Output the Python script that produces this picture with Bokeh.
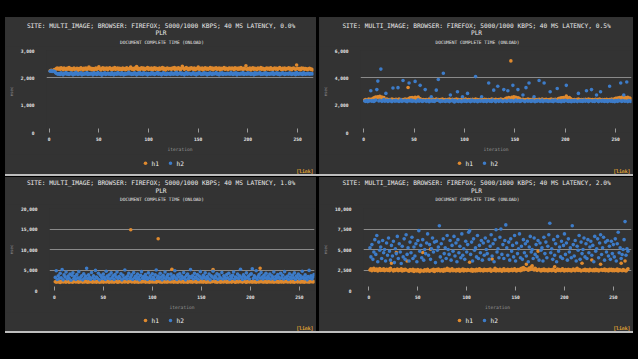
import numpy as np
from bokeh.plotting import figure
from bokeh.models import (Range1d, FixedTicker, NumeralTickFormatter, Spacer,
                          GlobalInlineStyleSheet)
from bokeh.core.properties import value
from bokeh.layouts import column, row
from bokeh.embed import file_html
from bokeh.resources import INLINE

# ---------------- data (msec per iteration) ----------------
TITLE_BASE = "SITE: MULTI_IMAGE; BROWSER: FIREFOX; 5000/1000 KBPS; 40 MS LATENCY, "
PLR_LEVELS = ["0.0%", "0.5%", "1.0%", "2.0%"]
SUBTITLE = "DOCUMENT COMPLETE TIME (ONLOAD)"
SERIES_NAMES = ["h1", "h2"]
X_TICKS = [0, 50, 100, 150, 200, 250]

Y_TICKS_00 = [0, 1000, 2000, 3000]
Y_TICKS_05 = [0, 2000, 4000, 6000]
Y_TICKS_10 = [0, 5000, 10000, 15000, 20000]
Y_TICKS_20 = [0, 2500, 5000, 7500, 10000]

P00_H1 = [2260, 2280, 2250, 2270, 2290, 2300, 2330, 2360, 2320, 2350, 2310, 2370, 2340, 2300, 2360, 2330, 2290, 2350, 2320, 2380,
          2310, 2340, 2290, 2330, 2360, 2300, 2320, 2350, 2280, 2340, 2310, 2370, 2330, 2290, 2350, 2320, 2360, 2300, 2340, 2390,
          2320, 2350, 2300, 2340, 2280, 2330, 2360, 2310, 2350, 2400, 2330, 2290, 2340, 2370, 2310, 2350, 2320, 2360, 2300, 2340,
          2370, 2330, 2290, 2350, 2320, 2380, 2310, 2340, 2360, 2300, 2350, 2330, 2290, 2360, 2320, 2340, 2300, 2370, 2330, 2310,
          2350, 2390, 2320, 2340, 2300, 2360, 2330, 2410, 2310, 2350, 2280, 2340, 2370, 2320, 2360, 2300, 2340, 2330, 2380, 2310,
          2350, 2320, 2360, 2290, 2340, 2370, 2310, 2350, 2330, 2300, 2360, 2320, 2340, 2380, 2310, 2350, 2290, 2340, 2360, 2320,
          2340, 2340, 2310, 2360, 2330, 2380, 2300, 2350, 2320, 2370, 2340, 2290, 2350, 2420, 2360, 2310, 2340, 2380, 2330, 2300,
          2350, 2320, 2370, 2340, 2310, 2360, 2300, 2340, 2330, 2390, 2310, 2350, 2320, 2360, 2290, 2340, 2370, 2320, 2350, 2310,
          2340, 2380, 2320, 2360, 2300, 2350, 2330, 2370, 2310, 2340, 2360, 2290, 2350, 2320, 2340, 2380, 2310, 2350, 2330, 2300,
          2360, 2350, 2320, 2360, 2340, 2300, 2370, 2330, 2350, 2310, 2360, 2320, 2380, 2340, 2300, 2350, 2330, 2440, 2310, 2340,
          2320, 2360, 2290, 2340, 2370, 2310, 2350, 2330, 2300, 2360, 2340, 2320, 2380, 2310, 2350, 2330, 2290, 2340, 2360, 2320,
          2350, 2310, 2370, 2330, 2300, 2340, 2360, 2320, 2350, 2310, 2340, 2380, 2330, 2300, 2350, 2320, 2360, 2310, 2340, 2330,
          2370, 2320, 2350, 2300, 2340, 2360, 2330, 2310, 2470, 2350, 2320, 2340, 2300, 2360, 2330, 2350, 2310, 2340, 2320, 2300,
          2330, 2350, 2310, 2320, 2290]
P00_H2 = [2240, 2260, 2230, 2250, 2240, 2210, 2170, 2150, 2130, 2160, 2120, 2180, 2140, 2110, 2170, 2150, 2190, 2130, 2160, 2120,
          2150, 2180, 2140, 2110, 2170, 2130, 2200, 2150, 2120, 2160, 2140, 2180, 2110, 2150, 2130, 2170, 2140, 2190, 2120, 2160,
          2130, 2170, 2150, 2110, 2180, 2140, 2160, 2120, 2190, 2150, 2130, 2170, 2100, 2160, 2140, 2180, 2120, 2150, 2170, 2130,
          2160, 2120, 2180, 2140, 2110, 2170, 2150, 2130, 2190, 2140, 2160, 2120, 2180, 2150, 2110, 2170, 2130, 2160, 2140, 2200,
          2140, 2170, 2120, 2160, 2130, 2180, 2150, 2110, 2170, 2140, 2190, 2130, 2160, 2120, 2180, 2150, 2140, 2170, 2110, 2160,
          2150, 2130, 2180, 2140, 2170, 2120, 2160, 2150, 2190, 2130, 2170, 2140, 2110, 2160, 2180, 2130, 2150, 2120, 2170, 2140,
          2160, 2120, 2180, 2150, 2130, 2170, 2140, 2200, 2120, 2160, 2150, 2180, 2130, 2170, 2140, 2110, 2160, 2190, 2130, 2150,
          2170, 2140, 2120, 2160, 2180, 2130, 2150, 2110, 2170, 2140, 2190, 2160, 2120, 2150, 2130, 2180, 2140, 2170, 2110, 2160,
          2130, 2180, 2150, 2120, 2170, 2140, 2160, 2190, 2130, 2150, 2110, 2170, 2140, 2180, 2120, 2160, 2150, 2130, 2170, 2140,
          2160, 2130, 2190, 2150, 2120, 2170, 2140, 2180, 2110, 2160, 2150, 2130, 2170, 2140, 2190, 2120, 2160, 2150, 2130, 2180,
          2140, 2170, 2120, 2160, 2150, 2110, 2180, 2130, 2170, 2140, 2160, 2190, 2120, 2150, 2130, 2170, 2140, 2180, 2110, 2160,
          2150, 2130, 2170, 2140, 2190, 2120, 2160, 2150, 2180, 2130, 2170, 2110, 2160, 2140, 2180, 2150, 2120, 2170, 2140, 2160,
          2130, 2180, 2150, 2120, 2160, 2140, 2170, 2110, 2190, 2150, 2130, 2170, 2140, 2160, 2120, 2180, 2150, 2130, 2160, 2140,
          2170, 2130, 2160, 2140, 2150]

P05_H1 = [2380, 2420, 2360, 2400, 2450, 2390, 2430, 2370, 2480, 2520, 2560, 2600, 2540, 2620, 2580, 2650, 2510, 2590, 2470, 2550,
          2410, 2380, 2440, 2360, 2400, 2420, 2370, 2450, 2390, 2410, 2360, 2430, 2380, 2400, 2440, 2370, 2410, 2390, 2420, 2380,
          2450, 2400, 2430, 3290, 2480, 2530, 2500, 2560, 2470, 2520, 2580, 2490, 2540, 2600, 2510, 2460, 2420, 2380, 2410, 2390,
          2370, 2420, 2400, 2380, 2440, 2360, 2410, 2390, 2430, 2370, 2400, 2450, 2380, 2420, 2360, 2410, 2390, 2440, 2370, 2400,
          2420, 2380, 2410, 2360, 2440, 2390, 2400, 2430, 2370, 2410, 2380, 2450, 2360, 2420, 2400, 2390, 2430, 2370, 2410, 2380,
          2440, 2400, 2370, 2420, 2390, 2410, 2360, 2430, 2380, 2400, 2450, 2370, 2410, 2390, 2420, 2380, 2440, 2360, 2400, 2430,
          2390, 2410, 2370, 2420, 2400, 2380, 2440, 2360, 2410, 2390, 2430, 2370, 2400, 2420, 2380, 2450, 2390, 2410, 2370, 2430,
          2480, 2520, 2460, 2550, 2500, 5240, 2570, 2490, 2610, 2530, 2580, 2470, 2540, 2500, 2450, 2410, 2380, 2430, 2400, 2370,
          2420, 2390, 2440, 2380, 2410, 2360, 2400, 2450, 2370, 2420, 2390, 2410, 2380, 2430, 2360, 2400, 2440, 2390, 2410, 2370,
          2430, 2380, 2400, 2420, 2370, 2440, 2390, 2410, 2360, 2430, 2400, 2380, 2470, 2510, 2490, 2540, 2500, 2560, 2480, 2530,
          2660, 2520, 2470, 2550, 2490, 2430, 2400, 2380, 2420, 2390, 2410, 2370, 2440, 2380, 2400, 2420, 2360, 2410, 2390, 2430,
          2380, 2400, 2440, 2370, 2410, 2390, 2420, 2360, 2400, 2430, 2380, 2410, 2390, 2440, 2370, 2400, 2420, 2380, 2410, 2390,
          2430, 2370, 2400, 2420, 2380, 2440, 2390, 2410, 2460, 2500, 2480, 2530, 2510, 2560, 2490, 2580, 2520, 2610, 2470, 2550,
          2500, 2570, 2480, 2530, 2460]
P05_H2 = [2310, 2280, 2350, 2260, 2300, 2330, 3050, 2290, 2340, 2270, 2320, 2380, 3140, 3760, 2300, 2360, 4640, 2280, 2330, 2410,
          2290, 2860, 2350, 2270, 2320, 2380, 2300, 2260, 3260, 2340, 2290, 2360, 2310, 3280, 2270, 2330, 2400, 2280, 3810, 2320,
          2350, 2290, 2260, 2330, 3620, 2300, 2370, 2280, 2340, 2310, 3740, 2260, 2320, 2390, 2290, 3450, 2350, 2270, 2310, 2340,
          3140, 2280, 2360, 2300, 2250, 2330, 2620, 2290, 2350, 2270, 2320, 3100, 2380, 3880, 2300, 2260, 2340, 2290, 4330, 2310,
          2270, 2350, 2300, 2330, 2260, 2740, 2320, 2380, 2290, 2240, 2340, 2300, 2980, 2270, 2360, 2310, 2250, 2620, 2330, 2290,
          2350, 2270, 2860, 2320, 2300, 2260, 2380, 2310, 2340, 2280, 4090, 2330, 2250, 2300, 2360, 2290, 2620, 2320, 2270, 2340,
          2310, 2260, 2350, 3620, 2290, 2330, 2270, 2380, 3100, 2300, 2250, 2340, 3380, 2280, 2320, 2360, 2290, 2260, 3140, 2330,
          2300, 2270, 3050, 2350, 2310, 2280, 2340, 3450, 2260, 2320, 2380, 2290, 3140, 2330, 2270, 2310, 2350, 2740, 2300, 2260,
          3280, 2340, 2290, 3620, 2320, 2270, 2360, 2300, 2620, 2250, 2330, 2290, 2350, 3810, 2280, 2310, 2370, 2260, 3620, 2320,
          2300, 2340, 2270, 2310, 2980, 2290, 2350, 2260, 2320, 2380, 2300, 3220, 2270, 2330, 2290, 2250, 2340, 2310, 2280, 2360,
          3450, 2300, 2270, 2330, 2290, 2250, 2340, 2310, 2280, 2360, 2300, 2260, 2860, 2320, 2290, 2350, 2270, 2310, 2380, 2290,
          3050, 2330, 2260, 2300, 2340, 3140, 2280, 2320, 2270, 2350, 2740, 2300, 2260, 2330, 2980, 2290, 2350, 2310, 2270, 2340,
          2300, 2260, 2330, 3380, 2290, 2350, 2270, 2310, 2250, 2340, 2300, 2280, 2360, 2320, 3620, 2270, 2330, 2740, 2290, 2310,
          3690, 2260, 2340, 2300, 2280]

P10_H1 = [2150, 2050, 2200, 2100, 2250, 1980, 2150, 2300, 2080, 2200, 2120, 2050, 2250, 2180, 2000, 2150, 2220, 2100, 2050, 2300,
          2180, 2080, 2200, 2150, 2020, 2250, 2120, 2180, 2050, 2220, 2100, 2300, 2150, 2000, 2200, 2080, 2250, 2130, 2050, 2180,
          2100, 2220, 2050, 2150, 2280, 2000, 2180, 2100, 2250, 2050, 2150, 2200, 2080, 2300, 2120, 2020, 2220, 2150, 2080, 2200,
          2050, 2180, 2250, 2100, 2000, 2200, 2150, 2280, 2050, 2120, 2220, 2080, 2180, 2300, 2020, 2150, 2250, 14800, 2100, 2200,
          2150, 2050, 2230, 2100, 2180, 2000, 2250, 2120, 2080, 2200, 2150, 2300, 2050, 2180, 2100, 2250, 2020, 2150, 2220, 2080,
          2200, 2100, 2280, 2050, 2150, 12640, 2220, 2080, 2180, 2000, 2250, 2150, 2100, 2300, 2050, 2180, 2120, 2230, 2080, 5200,
          2150, 2050, 2250, 2100, 2200, 2000, 2180, 2300, 2080, 2150, 2220, 2050, 2180, 2100, 2250, 2020, 2150, 2280, 2100, 2200,
          2050, 2180, 2120, 2250, 2000, 2150, 2220, 2080, 2300, 2100, 2180, 2050, 2250, 2150, 2020, 2200, 2100, 2280, 2050, 2180,
          2120, 5120, 2250, 2080, 2200, 2000, 2150, 2280, 2100, 2050, 2220, 2150, 2080, 2300, 2180, 2020, 2250, 2100, 2150, 2200,
          2050, 2180, 2250, 2100, 2000, 2220, 2150, 2080, 2300, 2120, 2200, 2050, 2180, 2250, 2100, 2020, 2150, 2280, 2080, 2200,
          2150, 2050, 2230, 2100, 2180, 2000, 2250, 2120, 2080, 5440, 2150, 2300, 2050, 2180, 2100, 2250, 2020, 2150, 2220, 2080,
          2200, 2100, 2280, 2050, 2150, 2220, 2080, 2180, 2000, 2250, 2150, 2100, 2300, 2050, 2180, 2120, 2230, 2080, 2150, 2200,
          2050, 2250, 2100, 2200, 2000, 2180, 2300, 2080, 2150, 2220, 2050, 2180, 2100, 2250, 2020, 2150, 2280, 2100, 2200, 2050,
          2180, 2120, 2250, 2080, 2200]
P10_H2 = [3200, 4800, 2700, 3600, 2900, 4200, 3100, 5100, 2600, 3800, 3300, 4500, 2800, 3500, 3000, 4000, 2500, 3700, 4300, 2900,
          3400, 2700, 3900, 3100, 4600, 2800, 3300, 3600, 2600, 4100, 3000, 3500, 5400, 2900, 3800, 3200, 2700, 4400, 3100, 3600,
          2800, 4900, 3300, 3000, 4200, 2600, 3700, 3400, 2900, 4000, 3200, 2700, 4700, 3500, 3000, 3800, 2800, 4300, 3100, 3600,
          2700, 3900, 3300, 4500, 2900, 3400, 3100, 4100, 2600, 3700, 3000, 5000, 3200, 2800, 3600, 4200, 2900, 3300, 3800, 2700,
          4400, 3100, 3500, 2800, 4000, 3200, 2600, 3700, 4600, 3000, 3400, 2900, 3900, 3300, 2700, 4300, 3100, 3600, 2800, 4100,
          3200, 2700, 3800, 5000, 3000, 3500, 2900, 4200, 3300, 2600, 3700, 3100, 4500, 2800, 3400, 3900, 3000, 2700, 4000, 3300,
          2900, 3600, 4800, 3100, 2700, 3800, 3300, 4100, 2800, 3500, 3000, 4400, 3200, 2600, 3700, 4000, 2900, 3400, 5100, 3100,
          3600, 2800, 4200, 3300, 3000, 3900, 2700, 3500, 4600, 3100, 2900, 3700, 3200, 4300, 2800, 3400, 3000, 4000, 2600, 3600,
          3300, 4700, 2900, 3500, 3100, 4100, 2700, 3800, 3200, 3000, 4400, 2800, 3600, 3300, 2900, 3900, 3100, 4200, 2700, 3500,
          3000, 3700, 4500, 2800, 3300, 3100, 4000, 2900, 3600, 5200, 3200, 2700, 3800, 3400, 2900, 4300, 3100, 3500, 2800, 3900,
          4100, 5300, 2900, 3600, 3200, 4800, 2700, 3400, 3900, 3000, 4400, 3300, 2800, 3700, 3100, 4200, 2900, 3500, 3000, 4000,
          2800, 3600, 3200, 4500, 2700, 3400, 3000, 3900, 3300, 2900, 4200, 3100, 3700, 2800, 4600, 3200, 3000, 3500, 2700, 4100,
          3300, 2900, 3800, 3100, 4300, 2700, 3500, 3200, 4000, 2800, 3600, 3000, 4700, 3300, 2900, 3800, 3100, 2600, 3400, 4900,
          3000, 3600, 2800, 3300, 3900]

P20_H1 = [2500, 2650, 2420, 2580, 2700, 2450, 2550, 2620, 2380, 2500, 2680, 2430, 2560, 2480, 2640, 2400, 2520, 2600, 2460, 2580,
          2420, 2700, 3320, 2500, 2380, 2560, 2450, 4640, 2620, 2400, 2530, 2470, 2650, 2380, 2550, 2450, 2600, 2500, 3600, 2420,
          2350, 2560, 2480, 2400, 2600, 2330, 2500, 2450, 2380, 2550, 2420, 2300, 2480, 2400, 4640, 2360, 2520, 2450, 2380, 2600,
          2430, 2350, 5040, 2500, 2400, 2580, 2330, 2470, 2550, 2400, 2620, 2450, 2380, 2530, 2480, 2360, 2600, 2420, 2500, 2700,
          2450, 2580, 2380, 2520, 2640, 2400, 2500, 2460, 2380, 2560, 2430, 2600, 2350, 2500, 2450, 2620, 2380, 2540, 2470, 2400,
          2560, 2480, 3440, 2400, 2600, 2350, 2520, 2450, 2380, 2580, 2420, 2500, 2650, 2400, 2530, 2460, 2380, 2600, 2450, 2520,
          2400, 2560, 2480, 2620, 2350, 3840, 2500, 2430, 2700, 2380, 2550, 2460, 2400, 2600, 2480, 2350, 2520, 2640, 2420, 2500,
          2450, 2580, 2380, 2530, 2460, 2600, 2400, 2500, 2650, 2430, 2380, 2560, 2480, 2600, 2420, 2700, 2500, 2800, 2550, 2650,
          3200, 2600, 2480, 2750, 2560, 2850, 3000, 2620, 2500, 2700, 2580, 2450, 4800, 2600, 2500, 2380, 2560, 2450, 2620, 2400,
          2520, 2460, 2380, 2600, 2450, 2530, 2400, 2580, 2480, 2900, 2350, 2500, 2620, 2430, 2560, 2400, 2500, 2650, 2450, 2380,
          2560, 2480, 2400, 2600, 2450, 2530, 2380, 2500, 2620, 2460, 2400, 2580, 2700, 2430, 2550, 2480, 2380, 3320, 2500, 2450,
          2600, 2400, 2530, 2460, 2380, 2580, 2480, 3720, 2420, 2550, 2400, 2600, 2450, 2520, 2380, 2480, 3200, 2560, 2430, 2500,
          2620, 2400, 2530, 2460, 2380, 2580, 2480, 2600, 2420, 2550, 2400, 2500, 2450, 2620, 2380, 2530, 2480, 3320, 2400, 2560,
          2450, 3600, 2380, 2520, 2650]
P20_H2 = [5200, 4100, 5600, 3800, 4700, 6200, 4400, 6700, 3500, 5900, 4900, 5300, 3900, 6100, 4600, 5000, 3600, 5800, 4300, 6400,
          4800, 3700, 5500, 4200, 6000, 3400, 5100, 4500, 6600, 3900, 5700, 4700, 3300, 5400, 4100, 6300, 3800, 6800, 4400, 5200,
          3600, 5900, 4600, 6500, 3900, 5300, 4200, 5700, 3500, 6100, 7300, 4800, 5500, 4000, 6200, 3700, 5000, 4500, 5800, 6900,
          4300, 5600, 3800, 5100, 6400, 4700, 5900, 3400, 6000, 4900, 5300, 7900, 4100, 5700, 3600, 6300, 4500, 5200, 3900, 6700,
          5000, 4400, 6100, 3700, 5500, 4800, 6600, 4200, 5800, 3500, 6200, 4600, 5400, 4000, 6900, 4300, 5100, 3800, 6000, 4700,
          5600, 7100, 7300, 4400, 5900, 3600, 6300, 4900, 5200, 4100, 6700, 3900, 5500, 4600, 6100, 3700, 5800, 4300, 6400, 5000,
          4500, 6000, 3800, 5400, 6800, 4200, 5700, 3500, 6200, 7400, 4700, 5100, 4000, 6500, 7500, 4400, 5600, 3900, 6100, 8000,
          5200, 4300, 5900, 3700, 6300, 4800, 5500, 4100, 6700, 3600, 5800, 4500, 5100, 6900, 4000, 5400, 3800, 6200, 4600, 5700,
          4200, 6000, 3500, 5300, 6600, 4700, 5000, 3900, 6400, 4400, 5600, 4100, 6100, 3700, 5800, 4900, 5200, 3600, 6500, 4500,
          5900, 4000, 5400, 6800, 8200, 4600, 5100, 3800, 6200, 4300, 5700, 3500, 6600, 4800, 5300, 4100, 6000, 3900, 5500, 6900,
          4400, 5800, 3700, 6300, 4700, 5200, 4000, 7900, 5600, 4200, 6100, 3600, 5400, 4900, 6700, 3800, 5900, 4500, 5000, 6400,
          4100, 5700, 3900, 6200, 4600, 5300, 6000, 4300, 5500, 3500, 6600, 4800, 5100, 6300, 4000, 5800, 6800, 4400, 5200, 6500,
          3700, 5900, 4700, 6100, 4200, 5400, 3800, 6000, 4500, 5600, 4100, 6300, 3600, 5700, 7100, 4600, 5200, 3900, 4400, 5000,
          6200, 8400, 4300, 5100, 4800]

# ---------------- styling ----------------
ORANGE = "#e08a2e"
BLUE = "#3d7cc9"
BG = "#333333"
MONO = "DejaVu Sans Mono"
LEFT = 35
MAIN_TOP = 4
FRAME_H = 83
MAIN_BOTTOM = 21
BG_STYLE = {"background-color": BG}


def blank(width, height):
    f = figure(width=width, height=height, output_backend="svg", toolbar_location=None,
               title=None, x_range=Range1d(0, width), y_range=Range1d(0, height),
               x_axis_type=None, y_axis_type=None,
               min_border_left=0, min_border_right=0, min_border_top=0, min_border_bottom=0,
               background_fill_color=BG, border_fill_color=BG, outline_line_color=None)
    return f


def put(f, h, text, x, y_from_top, size, color, align="center", bold=False):
    f.text(x=[x], y=[h - y_from_top], text=[text], text_font=value(MONO),
           text_font_size=value(size), text_color=color, text_align=value(align),
           text_baseline=value("middle"),
           text_font_style=value("bold" if bold else "normal"))


def make_panel(plr, h1, h2, yticks, grid_ticks, xr, width, right, head_h, foot_h,
               t_y, leg_y, link_y):
    # ---- header: titles ----
    head = blank(width, head_h)
    cx = width / 2.0
    put(head, head_h, TITLE_BASE + plr, cx, t_y, "6.2px", "#ececec")
    put(head, head_h, "PLR", cx, t_y + 7.3, "6.2px", "#ececec")
    put(head, head_h, SUBTITLE, cx + 1, t_y + 17, "4.5px", "#ececec")

    # ---- main scatter plot ----
    p = figure(width=width, height=MAIN_TOP + FRAME_H + MAIN_BOTTOM, output_backend="svg",
               toolbar_location=None, title=None, x_range=Range1d(xr[0], xr[1]),
               y_range=Range1d(yticks[0], yticks[-1]),
               min_border_left=LEFT, min_border_right=right,
               min_border_top=MAIN_TOP, min_border_bottom=MAIN_BOTTOM,
               background_fill_color=BG, border_fill_color=BG, outline_line_color=None)
    p.scatter(np.arange(1, len(h1) + 1), h1, size=3.6, fill_color=ORANGE, line_color=None)
    p.scatter(np.arange(1, len(h2) + 1), h2, size=3.6, fill_color=BLUE, line_color=None)

    xa = p.xaxis[0]
    xa.ticker = FixedTicker(ticks=X_TICKS)
    xa.axis_line_color = None
    xa.major_tick_in = 4
    xa.major_tick_out = 0
    xa.major_tick_line_color = "#9a9a9a"
    xa.minor_tick_line_color = None
    xa.major_label_text_font = MONO
    xa.major_label_text_font_size = "4.6px"
    xa.major_label_text_font_style = "bold"
    xa.major_label_text_color = "#e6e6e6"
    xa.major_label_standoff = 4
    xa.axis_label = "iteration"
    xa.axis_label_text_font = MONO
    xa.axis_label_text_font_size = "4.6px"
    xa.axis_label_text_font_style = "normal"
    xa.axis_label_text_color = "#9a9a9a"
    xa.axis_label_standoff = 3

    ya = p.yaxis[0]
    ya.ticker = FixedTicker(ticks=yticks)
    ya.formatter = NumeralTickFormatter(format="0,0")
    ya.axis_line_color = None
    ya.major_tick_line_color = None
    ya.minor_tick_line_color = None
    ya.major_label_text_font = MONO
    ya.major_label_text_font_size = "4.6px"
    ya.major_label_text_font_style = "bold"
    ya.major_label_text_color = "#e6e6e6"
    ya.major_label_standoff = 6
    ya.axis_label = "msec"
    ya.axis_label_text_font = MONO
    ya.axis_label_text_font_size = "4px"
    ya.axis_label_text_font_style = "normal"
    ya.axis_label_text_color = "#9a9a9a"
    ya.axis_label_standoff = 4

    p.xgrid.visible = False
    p.xgrid.grid_line_color = None
    p.ygrid.ticker = FixedTicker(ticks=grid_ticks)
    p.ygrid.grid_line_color = "#8a8a8a"
    p.ygrid.grid_line_width = 1

    # ---- footer: legend + link ----
    foot = blank(width, foot_h)
    foot.scatter(x=[140, 165], y=[foot_h - leg_y] * 2, size=3.6,
                 fill_color=[ORANGE, BLUE], line_color=None)
    put(foot, foot_h, SERIES_NAMES[0], 146, leg_y, "6.2px", "#f0f0f0", align="left")
    put(foot, foot_h, SERIES_NAMES[1], 171, leg_y, "6.2px", "#f0f0f0", align="left")
    put(foot, foot_h, "[link]", width - 3, link_y, "4.8px", "#e3a634", align="right", bold=True)

    # wrap the plots separately so their frames are not aligned to each other
    return column(row(head, styles=BG_STYLE), row(p, styles=BG_STYLE),
                  row(foot, styles=BG_STYLE), styles=BG_STYLE)


# top panels: 157 px = 29 header + 108 main + 20 footer
# bottom panels: 154 px = 27 header + 108 main + 19 footer
c1 = make_panel(PLR_LEVELS[0], P00_H1, P00_H2, Y_TICKS_00, [2000], (-2.7, 266.0),
                311, 3, 29, 20, 8.0, 8.7, 16.7)
c2 = make_panel(PLR_LEVELS[1], P05_H1, P05_H2, Y_TICKS_05, [4000], (-3.2, 265.7),
                314, 2, 29, 20, 8.0, 8.7, 16.7)
c3 = make_panel(PLR_LEVELS[2], P10_H1, P10_H2, Y_TICKS_10, [5000, 10000, 15000, 20000], (-4.9, 265.5),
                311, 2, 27, 19, 5.3, 8.0, 16.0)
c4 = make_panel(PLR_LEVELS[3], P20_H1, P20_H2, Y_TICKS_20, [2500, 5000, 7500, 10000], (-5.6, 268.6),
                314, 2, 27, 19, 5.3, 8.0, 16.0)

bar1 = Spacer(width=628, height=2, styles={"background-color": "#bdbdbd"})
bar2 = Spacer(width=628, height=2, styles={"background-color": "#bdbdbd"})

root = column(
    Spacer(width=638, height=17),
    row(Spacer(width=5, height=157), c1, Spacer(width=3, height=157), c2),
    row(Spacer(width=5, height=2), bar1),
    Spacer(width=638, height=1),
    row(Spacer(width=5, height=154), c3, Spacer(width=3, height=154), c4),
    row(Spacer(width=5, height=2), bar2),
)
root.stylesheets = [GlobalInlineStyleSheet(
    css="html, body {margin:0 !important; padding:0 !important; background:#000 !important; overflow:hidden;}")]

open("out.html", "w").write(file_html(root, INLINE))
